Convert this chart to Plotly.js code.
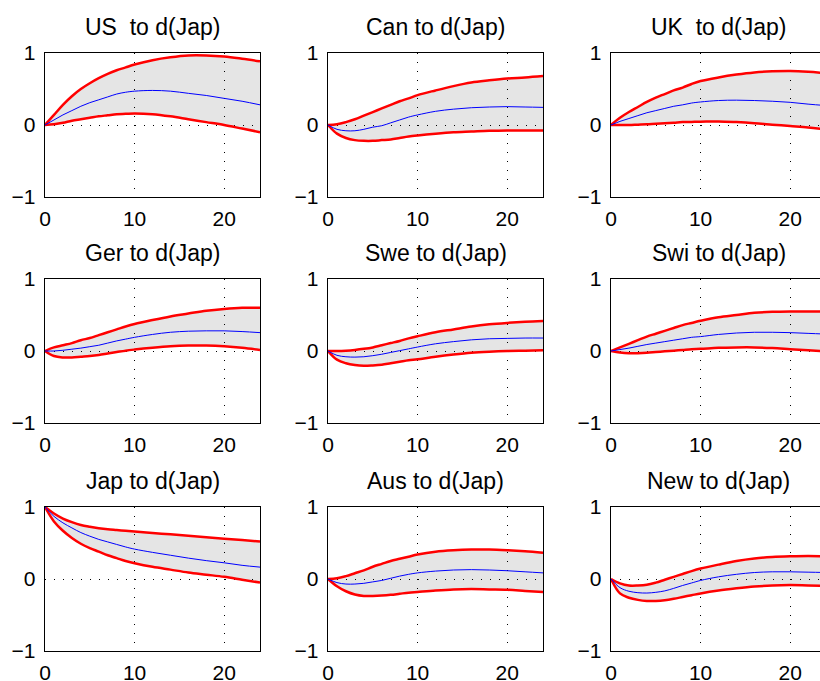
<!DOCTYPE html>
<html>
<head>
<meta charset="utf-8">
<script src="https://cdn.plot.ly/plotly-3.0.1.min.js"></script>
<style>
html,body{margin:0;padding:0;overflow:hidden;background:#fff;}
#chart{width:840px;height:681px;}
</style>
</head>
<body>
<div id="chart"></div>
<script>
// horizon steps
var steps = [0,1,2,3,4,5,6,7,8,9,10,12,14,16,18,20,22,24];

var titles = ["US  to d(Jap)","Can to d(Jap)","UK  to d(Jap)",
              "Ger to d(Jap)","Swe to d(Jap)","Swi to d(Jap)",
              "Jap to d(Jap)","Aus to d(Jap)","New to d(Jap)"];

// US
var usUpper = [0,0.14,0.28,0.40,0.50,0.58,0.65,0.71,0.76,0.80,0.84,0.90,0.94,0.965,0.965,0.95,0.92,0.885];
var usMid   = [0,0.07,0.14,0.20,0.26,0.31,0.35,0.39,0.43,0.455,0.47,0.48,0.47,0.44,0.41,0.37,0.33,0.28];
var usLower = [0,0.01,0.03,0.06,0.08,0.10,0.12,0.135,0.15,0.155,0.16,0.15,0.12,0.08,0.04,0.0,-0.05,-0.10];
// Can
var canUpper = [0,0.01,0.04,0.08,0.13,0.18,0.23,0.28,0.33,0.37,0.415,0.48,0.54,0.59,0.62,0.645,0.66,0.68];
var canMid   = [0,-0.06,-0.08,-0.08,-0.06,-0.03,-0.01,0.03,0.07,0.11,0.14,0.19,0.22,0.24,0.25,0.255,0.25,0.245];
var canLower = [0,-0.12,-0.18,-0.21,-0.22,-0.22,-0.21,-0.20,-0.18,-0.16,-0.145,-0.12,-0.10,-0.09,-0.08,-0.075,-0.075,-0.075];
// UK
var ukUpper = [0,0.10,0.18,0.25,0.32,0.38,0.43,0.48,0.52,0.57,0.61,0.66,0.70,0.73,0.745,0.75,0.74,0.72];
var ukMid   = [0,0.05,0.09,0.13,0.17,0.20,0.23,0.26,0.28,0.305,0.32,0.34,0.345,0.34,0.33,0.315,0.29,0.27];
var ukLower = [0,0.0,0.0,0.005,0.01,0.018,0.025,0.032,0.04,0.043,0.045,0.05,0.04,0.025,0.005,-0.015,-0.035,-0.06];
// Ger
var gerUpper = [0,0.05,0.08,0.11,0.15,0.18,0.22,0.26,0.30,0.34,0.375,0.43,0.48,0.52,0.56,0.585,0.60,0.60];
var gerMid   = [0,0.0,0.01,0.025,0.04,0.06,0.08,0.11,0.14,0.165,0.19,0.23,0.26,0.275,0.28,0.28,0.27,0.255];
var gerLower = [0,-0.07,-0.09,-0.09,-0.08,-0.07,-0.055,-0.035,-0.015,0.005,0.02,0.045,0.065,0.075,0.075,0.065,0.045,0.015];
// Swe
var sweUpper = [0,0.0,0.005,0.015,0.03,0.05,0.08,0.11,0.14,0.175,0.205,0.26,0.30,0.34,0.37,0.39,0.405,0.415];
var sweMid   = [0,-0.06,-0.08,-0.085,-0.08,-0.065,-0.045,-0.02,0.005,0.03,0.055,0.10,0.13,0.155,0.17,0.175,0.18,0.18];
var sweLower = [0,-0.12,-0.17,-0.195,-0.205,-0.20,-0.19,-0.17,-0.15,-0.13,-0.115,-0.08,-0.05,-0.025,-0.01,0.0,0.005,0.01];
// Swi
var swiUpper = [0,0.05,0.10,0.15,0.20,0.24,0.28,0.32,0.36,0.39,0.42,0.47,0.50,0.53,0.545,0.55,0.55,0.55];
var swiMid   = [0,0.02,0.04,0.065,0.09,0.11,0.13,0.15,0.17,0.19,0.20,0.23,0.25,0.26,0.26,0.255,0.245,0.235];
var swiLower = [0,-0.02,-0.03,-0.03,-0.025,-0.015,-0.005,0.005,0.015,0.025,0.03,0.045,0.05,0.05,0.04,0.025,0.01,-0.005];
// Jap
var japUpper = [1,0.91,0.84,0.79,0.75,0.725,0.705,0.69,0.68,0.67,0.66,0.64,0.62,0.60,0.58,0.56,0.54,0.52];
var japMid   = [1,0.87,0.78,0.71,0.645,0.595,0.55,0.515,0.48,0.445,0.415,0.37,0.33,0.29,0.255,0.225,0.19,0.165];
var japLower = [1,0.80,0.67,0.57,0.49,0.43,0.38,0.33,0.29,0.25,0.22,0.17,0.13,0.09,0.06,0.03,-0.01,-0.05];
// Aus
var ausUpper = [0,0.01,0.04,0.08,0.12,0.17,0.21,0.25,0.28,0.31,0.34,0.38,0.40,0.41,0.41,0.40,0.385,0.365];
var ausMid   = [0,-0.05,-0.07,-0.07,-0.06,-0.04,-0.02,0.01,0.04,0.065,0.085,0.11,0.125,0.13,0.125,0.115,0.10,0.085];
var ausLower = [0,-0.10,-0.17,-0.215,-0.235,-0.235,-0.23,-0.22,-0.205,-0.19,-0.18,-0.16,-0.145,-0.14,-0.145,-0.15,-0.165,-0.18];
// New
var newUpper = [0,-0.06,-0.09,-0.09,-0.08,-0.05,-0.01,0.03,0.07,0.11,0.145,0.20,0.25,0.285,0.305,0.315,0.32,0.315];
var newMid   = [0,-0.12,-0.17,-0.19,-0.195,-0.185,-0.165,-0.13,-0.09,-0.055,-0.02,0.03,0.065,0.09,0.10,0.10,0.095,0.09];
var newLower = [0,-0.20,-0.26,-0.29,-0.305,-0.305,-0.295,-0.275,-0.25,-0.225,-0.20,-0.16,-0.13,-0.105,-0.09,-0.085,-0.09,-0.095];

var xTicks = [0,10,20];
var yTicks = [-1,0,1];

var panels = [
  [usUpper,usMid,usLower],[canUpper,canMid,canLower],[ukUpper,ukMid,ukLower],
  [gerUpper,gerMid,gerLower],[sweUpper,sweMid,sweLower],[swiUpper,swiMid,swiLower],
  [japUpper,japMid,japLower],[ausUpper,ausMid,ausLower],[newUpper,newMid,newLower]
];

var W = 840, H = 681;
var colL = [45,328,611], colW = 215;
var rowT = [53,279,507], rowH = 144;

var FONT = "Liberation Sans, Arial, Helvetica, sans-serif";
var data = [];
var layout = {
  width: W, height: H,
  margin: {l:0,r:0,t:0,b:0},
  paper_bgcolor: "#fff", plot_bgcolor: "#fff",
  showlegend: false,
  font: {family: FONT, size: 21, color: "#000"},
  annotations: []
};

for (var i = 0; i < 9; i++) {
  var r = Math.floor(i/3), c = i % 3;
  var n = i + 1;
  var xa = "x" + (n === 1 ? "" : n), ya = "y" + (n === 1 ? "" : n);
  var p = panels[i];
  var sh = "spline";
  data.push({x: steps, y: p[2], xaxis: xa, yaxis: ya, mode: "lines", line: {width: 0, shape: sh}, hoverinfo: "skip"});
  data.push({x: steps, y: p[0], xaxis: xa, yaxis: ya, mode: "lines", line: {width: 0, shape: sh}, fill: "tonexty", fillcolor: "rgba(0,0,0,0.1)", hoverinfo: "skip"});
  data.push({x: steps, y: p[0], xaxis: xa, yaxis: ya, mode: "lines", line: {color: "#ff0000", width: 2.5, shape: sh}});
  data.push({x: steps, y: p[2], xaxis: xa, yaxis: ya, mode: "lines", line: {color: "#ff0000", width: 2.5, shape: sh}});
  data.push({x: steps, y: p[1], xaxis: xa, yaxis: ya, mode: "lines", line: {color: "#0000ff", width: 1, shape: sh}});

  var axX = {
    domain: [colL[c]/W, (colL[c]+colW)/W], anchor: ya,
    range: [0,24], tickvals: xTicks,
    showline: true, mirror: true, linecolor: "#000", linewidth: 1.3,
    showgrid: true, gridcolor: "#000", gridwidth: 1, griddash: "1px,8px",
    zeroline: false, ticks: "", ticklabelstandoff: 2,
    tickfont: {family: FONT, size: 21, color: "#000"}, fixedrange: true
  };
  var axY = {
    domain: [1-(rowT[r]+rowH)/H, 1-rowT[r]/H], anchor: xa,
    range: [-1,1], tickvals: yTicks,
    showline: true, mirror: true, linecolor: "#000", linewidth: 1.3,
    showgrid: true, gridcolor: "#000", gridwidth: 1, griddash: "1px,8px",
    zeroline: false, ticks: "", ticklabelstandoff: 4,
    tickfont: {family: FONT, size: 21, color: "#000"}, fixedrange: true
  };
  layout["xaxis" + (n === 1 ? "" : n)] = axX;
  layout["yaxis" + (n === 1 ? "" : n)] = axY;

  layout.annotations.push({
    text: titles[i], showarrow: false, xref: "paper", yref: "paper",
    x: (colL[c] + colW/2)/W, y: 1 - (rowT[r]-26)/H, xanchor: "center", yanchor: "middle",
    font: {family: FONT, size: 23, color: "#000"}
  });
}

Plotly.newPlot("chart", data, layout, {staticPlot: true});
</script>
</body>
</html>
